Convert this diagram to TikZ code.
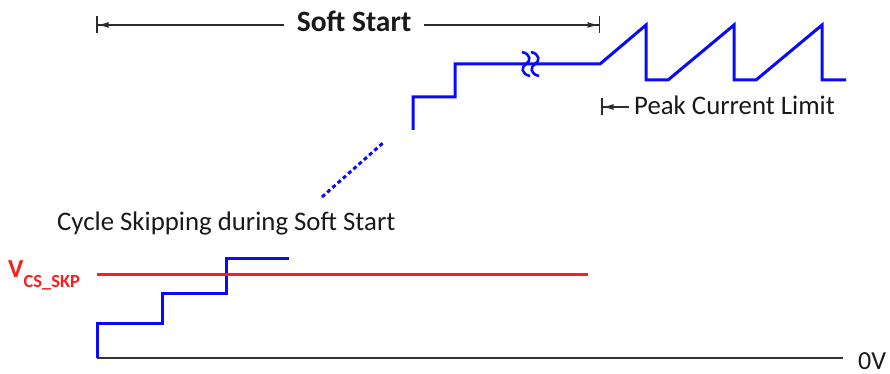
\documentclass[tikz,border=0pt]{standalone}
\usepackage{fontspec}
\setmainfont{Carlito}
\usetikzlibrary{arrows.meta}
\definecolor{waveblue}{RGB}{10,10,250}
\definecolor{skpred}{RGB}{250,30,30}
\definecolor{dimgray}{RGB}{45,45,45}
\begin{document}
\begin{tikzpicture}[x=1pt,y=-1pt,
    wave/.style={waveblue,line width=3pt},
    dimline/.style={dimgray,line width=1.4pt},
    dimtip/.style={-{Latex[length=11pt,width=6pt]Bar[width=17pt,line width=1.5pt]}},
    lbl/.style={font=\fontsize{26.8}{28}\selectfont,text=black!90,inner sep=0pt}]
  \useasboundingbox (0,0) rectangle (890,374);
  % soft start span
  \coordinate (ssL) at (96,25);
  \coordinate (ssR) at (600,25);
  \node[lbl,font=\fontsize{29.5}{30}\selectfont\bfseries,inner xsep=13pt,anchor=base] (ss) at (354,32) {Soft Start};
  \draw[dimline,dimtip] (ss.west |- ssL) -- (ssL);
  \draw[dimline,dimtip] (ss.east |- ssR) -- (ssR);
  % peak current limit
  \coordinate (pclbar) at (601,107);
  \node[lbl,inner xsep=5pt,anchor=base west] (pcl) at (629,115) {Peak Current Limit};
  \draw[dimline,dimtip] (pcl.west |- pclbar) -- (pclbar);
  % upper waveform
  \draw[wave] (413,130) -- (413,97) -- (455,97) -- (455,64) -- (600,64) -- (646,25) -- (646,80)
    foreach \i in {1,2} { -- ++(22,0) -- ++(66,-55) -- ++(0,55) } -- ++(24,0);
  \foreach \x in {526,535}
    \draw[waveblue,line width=2.6pt] (\x-4,52) .. controls (\x+5,54) and (\x+5,61) .. (\x,64)
      .. controls (\x-5,67) and (\x-5,74) .. (\x+4,76);
  \draw[wave,dash pattern=on 4pt off 3pt] (322,197) -- (384,142);
  \node[lbl,anchor=base west] (skp) at (57,230) {Cycle Skipping during Soft Start};
  % lower waveform
  \coordinate (gndL) at (97,358);
  \coordinate (gndR) at (843,358);
  \draw[black!80,line width=2pt] (gndL) -- (gndR);
  \node[lbl,font=\fontsize{26}{28}\selectfont,anchor=base west] (zero) at (858,369) {0V};
  \draw[wave] (gndL) -- (97,323) -- (162,323) -- (162,293) -- (226,293) -- (226,258) -- (289,258);
  \draw[skpred,line width=3pt] (97,274) -- (588,274);
  \node[anchor=base west,inner sep=0pt,text=skpred,font=\bfseries] (vcs) at (8,277)
    {\fontsize{26}{26}\selectfont V\raisebox{-10pt}{\fontsize{18.5}{19}\selectfont CS\_SKP}};
\end{tikzpicture}
\end{document}
